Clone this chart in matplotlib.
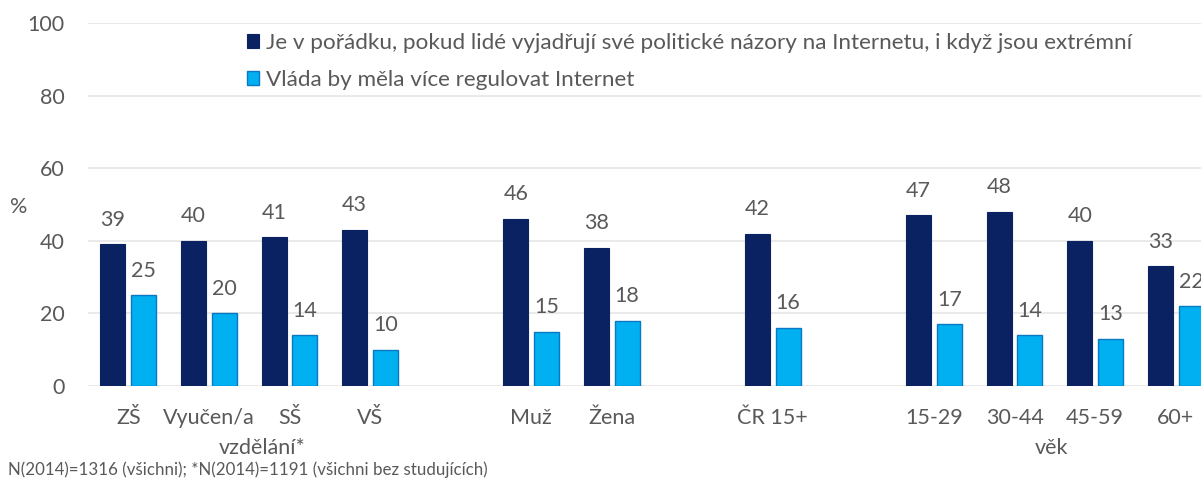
import matplotlib.pyplot as plt
import numpy as np

plt.rcParams['font.family'] = ['Lato', 'DejaVu Sans']

# skupiny kategorií, prázdné pozice oddělují bloky
kategorie = ["ZŠ", "Vyučen/a", "SŠ", "VŠ", "", "Muž", "Žena", "", "ČR 15+", "",
             "15-29", "30-44", "45-59", "60+"]
pozice = [0, 1, 2, 3, 5, 6, 8, 10, 11, 12, 13]
nazory_ok = [39, 40, 41, 43, 46, 38, 42, 47, 48, 40, 33]
regulace = [25, 20, 14, 10, 15, 18, 16, 17, 14, 13, 22]

serie1 = "Je v pořádku, pokud lidé vyjadřují své politické názory na Internetu, i když jsou extrémní"
serie2 = "Vláda by měla více regulovat Internet"
poznamka = "N(2014)=1316 (všichni); *N(2014)=1191 (všichni bez studujících)"

tmava = "#0b2262"
svetla = "#00b0f0"
seda = "#595959"
fs = 15.5

fig = plt.figure(figsize=(12.01, 4.84), dpi=100)
ax = fig.add_axes([88 / 1201, 98 / 484, 1128 / 1201, 363 / 484])

x = np.array(pozice)
w = 0.31
b1 = ax.bar(x - 0.19, nazory_ok, w, color=tmava, edgecolor=tmava, linewidth=0.8, label=serie1, zorder=3)
b2 = ax.bar(x + 0.19, regulace, w, color=svetla, edgecolor="#0a78c2", linewidth=1.0, label=serie2, zorder=3)

for bars, vals in ((b1, nazory_ok), (b2, regulace)):
    for r, v in zip(bars, vals):
        ax.annotate(str(v), (r.get_x() + r.get_width() / 2, v), xytext=(0, 10.5),
                    textcoords="offset points", ha="center", va="bottom",
                    fontsize=fs, color=seda)

ax.set_xlim(-0.5, 13.5)
ax.set_ylim(0, 100)
ax.set_yticks(range(0, 101, 20))
ax.set_xticks(range(len(kategorie)))
ax.set_xticklabels(kategorie)
ax.tick_params(axis="both", length=0, labelsize=fs, labelcolor=seda)
ax.tick_params(axis="y", pad=17)
ax.tick_params(axis="x", pad=16)
ax.grid(axis="y", color="#e6e6e6", linewidth=1.2, zorder=0)
for s in ax.spines.values():
    s.set_visible(False)

ax.text(1.66, -17.0, "vzdělání*", ha="center", va="center", fontsize=fs, color=seda)
ax.text(11.46, -17.0, "věk", ha="center", va="center", fontsize=fs, color=seda)

fig.text(10 / 1201, 1 - 207 / 484, "%", ha="left", va="center", fontsize=fs, color=seda)
fig.text(8 / 1201, 1 - 470 / 484, poznamka, ha="left", va="center", fontsize=12.2, color=seda)

leg = ax.legend(loc="upper left", bbox_to_anchor=(247 / 1201, 1 - 33 / 484),
                bbox_transform=fig.transFigure, frameon=False, fontsize=16.2,
                handlelength=0.55, handleheight=0.55, handletextpad=0.3,
                labelspacing=0.76, borderaxespad=0, borderpad=0)
for t in leg.get_texts():
    t.set_color(seda)

plt.savefig("out.png", dpi=100)
